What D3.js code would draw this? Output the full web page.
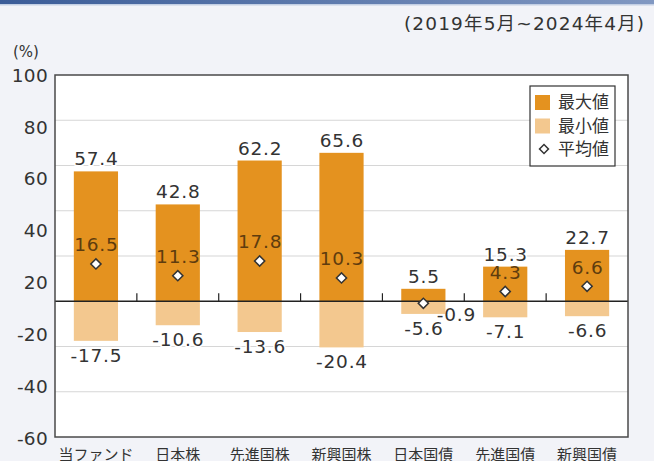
<!DOCTYPE html>
<html>
<head>
<meta charset="utf-8">
<script src="https://cdn.jsdelivr.net/npm/d3@7"></script>
<style>
  html, body { margin: 0; padding: 0; background: #f2f3f8; }
  svg { display: block; font-family: "DejaVu Sans", "Noto Sans CJK JP", sans-serif; }
  .jp { font-family: "Noto Sans CJK JP", sans-serif; }
</style>
</head>
<body>
<div class="chart"></div>
<script>
const width = 654;
const height = 461;

                                         // DATA //
const categories = ["当ファンド", "日本株", "先進国株", "新興国株", "日本国債", "先進国債", "新興国債"];
const maxValues  = [57.4, 42.8, 62.2, 65.6, 5.5, 15.3, 22.7];
const minValues  = [-17.5, -10.6, -13.6, -20.4, -5.6, -7.1, -6.6];
const avgValues  = [16.5, 11.3, 17.8, 10.3, -0.9, 4.3, 6.6];
const tickLabels = ["100", "80", "60", "40", "20", "-20", "-40", "-60"];
const gridValues = [80, 60, 40, 20, -20, -40];
const legendItems = ["最大値", "最小値", "平均値"];

const rows = categories.map((c, i) => ({cat: c, max: maxValues[i], min: minValues[i], avg: avgValues[i]}));

const colMax = "#e4921f";
const colMin = "#f3c88f";

const plot = {left: 55, right: 628, top: 75, bottom: 437};

const svg = d3.select(".chart")
    .append("svg")
    .attr("width", width)
    .attr("height", height)
    .attr("viewBox", [0, 0, width, height]);

// top stripe
const grad = svg.append("defs").append("linearGradient").attr("id", "topbar");
grad.append("stop").attr("offset", "0%").attr("stop-color", "#3b5c98");
grad.append("stop").attr("offset", "100%").attr("stop-color", "#8198c2");
svg.append("rect").attr("x", 0).attr("y", 0).attr("width", width).attr("height", 4).attr("fill", "url(#topbar)");
svg.append("rect").attr("x", 0).attr("y", 4).attr("width", width).attr("height", 1.5).attr("fill", "#c3cfe4");

// scales
const x = d3.scaleBand().domain(categories).range([plot.left, plot.right]).paddingInner(0.46).paddingOuter(0.23);
const xOuter = d3.scaleBand().domain(categories).range([plot.left, plot.right]);
const y = d3.scaleLinear().domain([-60, 100]).range([plot.bottom, plot.top]);
const yLab = d3.scalePoint().domain(tickLabels).range([plot.top, plot.bottom + 1]);

// plot background
svg.append("rect")
    .attr("x", plot.left).attr("y", plot.top)
    .attr("width", plot.right - plot.left).attr("height", plot.bottom - plot.top)
    .attr("fill", "#fff");

// gridlines
svg.append("g")
    .selectAll("line")
    .data(gridValues)
    .join("line")
    .attr("x1", plot.left).attr("x2", plot.right)
    .attr("y1", d => y(d)).attr("y2", d => y(d))
    .attr("stroke", "#d6d6d6")
    .attr("stroke-width", 1.2);

// bars
const bars = svg.append("g");
bars.selectAll(".bmin")
    .data(rows)
    .join("rect")
    .attr("class", "bmin")
    .attr("x", d => x(d.cat))
    .attr("width", x.bandwidth())
    .attr("y", y(0))
    .attr("height", d => y(d.min) - y(0))
    .attr("fill", colMin);
bars.selectAll(".bmax")
    .data(rows)
    .join("rect")
    .attr("class", "bmax")
    .attr("x", d => x(d.cat))
    .attr("width", x.bandwidth())
    .attr("y", d => y(d.max))
    .attr("height", d => y(0) - y(d.max))
    .attr("fill", colMax);

// zero line and category ticks
svg.append("line")
    .attr("x1", plot.left).attr("x2", plot.right)
    .attr("y1", y(0)).attr("y2", y(0))
    .attr("stroke", "#222").attr("stroke-width", 1.4);
svg.append("g")
    .selectAll("line")
    .data(categories.slice(1))
    .join("line")
    .attr("x1", d => xOuter(d)).attr("x2", d => xOuter(d))
    .attr("y1", y(0)).attr("y2", y(0) - 8)
    .attr("stroke", "#222").attr("stroke-width", 1.2);

// plot border
svg.append("rect")
    .attr("x", plot.left).attr("y", plot.top)
    .attr("width", plot.right - plot.left).attr("height", plot.bottom - plot.top)
    .attr("fill", "none")
    .attr("stroke", "#4a4a4a")
    .attr("stroke-width", 1.5);

const cx = d => x(d.cat) + x.bandwidth() / 2;

// value labels (max / min) with white halo
const lab = svg.append("g")
    .attr("font-size", 18.5)
    .attr("letter-spacing", 0.8)
    .attr("fill", "#333")
    .attr("text-anchor", "middle")
    .attr("stroke", "#fff")
    .attr("stroke-width", 3)
    .attr("paint-order", "stroke");
lab.selectAll(".lmax")
    .data(rows)
    .join("text")
    .attr("x", d => cx(d) + 0.5)
    .attr("y", d => y(d.max) - 6)
    .text(d => d.max.toFixed(1));
lab.selectAll(".lmin")
    .data(rows)
    .join("text")
    .attr("x", d => cx(d) + 0.5)
    .attr("y", d => y(d.min) + 21)
    .text(d => d.min.toFixed(1));

// average labels
svg.append("g")
    .attr("font-size", 18.5)
    .attr("letter-spacing", 0.8)
    .attr("text-anchor", "middle")
    .selectAll("text")
    .data(rows)
    .join("text")
    .attr("x", d => d.avg < 0 ? cx(d) + 33 : cx(d) + 0.5)
    .attr("y", d => d.avg < 0 ? y(d.avg) + 18 : y(d.avg) - 12.5)
    .attr("fill", d => d.avg < 0 ? "#333" : "#5e3c0e")
    .text(d => d.avg.toFixed(1));

// average markers
const diamond = d3.symbol().type(d3.symbolSquare).size(52);
svg.append("g")
    .selectAll("path")
    .data(rows)
    .join("path")
    .attr("d", diamond)
    .attr("transform", d => `translate(${cx(d)},${y(d.avg)}) rotate(45)`)
    .attr("fill", "#fff")
    .attr("stroke", "#333")
    .attr("stroke-width", 1.5);

// y tick labels (evenly spaced as in the original)
svg.append("g")
    .attr("font-size", 18.5)
    .attr("letter-spacing", 0.3)
    .attr("fill", "#333")
    .attr("text-anchor", "end")
    .selectAll("text")
    .data(tickLabels)
    .join("text")
    .attr("x", 48)
    .attr("y", d => yLab(d))
    .attr("dy", "0.36em")
    .text(d => d);

// category labels
svg.append("g")
    .attr("class", "jp")
    .attr("font-size", 15)
    .attr("fill", "#333")
    .attr("text-anchor", "middle")
    .selectAll("text")
    .data(categories)
    .join("text")
    .attr("x", d => xOuter(d) + xOuter.bandwidth() / 2)
    .attr("y", 460)
    .text(d => d);

// unit and period
svg.append("text").attr("x", 13).attr("y", 57).attr("font-size", 15).attr("fill", "#333").text("(%)");
svg.append("text").attr("x", 404).attr("y", 30).attr("font-size", 18.5).attr("fill", "#333")
    .attr("textLength", 240).attr("lengthAdjust", "spacing")
    .text("(2019年5月~2024年4月)");

// legend
const lg = svg.append("g").attr("transform", "translate(530,86)");
lg.append("rect").attr("width", 85).attr("height", 80).attr("fill", "#fff")
    .attr("stroke", "#333").attr("stroke-width", 1.2);
const li = lg.selectAll("g")
    .data(legendItems)
    .join("g")
    .attr("transform", (d, i) => `translate(0,${16 + i * 23.5})`);
li.filter((d, i) => i < 2)
    .append("rect")
    .attr("x", 5).attr("y", -7).attr("width", 15).attr("height", 15)
    .attr("fill", (d, i) => i === 0 ? colMax : colMin);
li.filter((d, i) => i === 2)
    .append("path")
    .attr("d", d3.symbol().type(d3.symbolSquare).size(40))
    .attr("transform", "translate(14,0) rotate(45)")
    .attr("fill", "#fff").attr("stroke", "#333").attr("stroke-width", 1.5);
li.append("text")
    .attr("class", "jp")
    .attr("x", 28).attr("dy", "0.36em")
    .attr("font-size", 17).attr("fill", "#333")
    .text(d => d);
</script>
</body>
</html>
